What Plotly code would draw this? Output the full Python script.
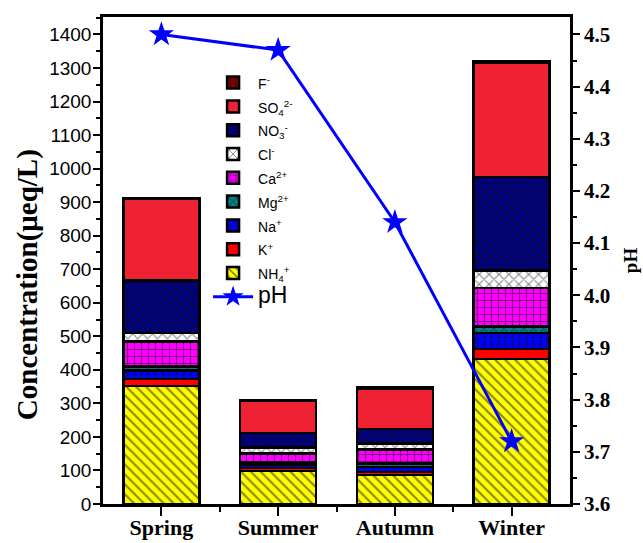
import plotly.graph_objects as go

# Seasonal ion concentrations (μeq/L), stacked bottom to top, and seasonal mean pH
seasons = ["Spring", "Summer", "Autumn", "Winter"]
nh4 = [352, 99, 87, 432]
k = [21, 8, 9, 30]
na = [25, 9, 14, 48]
mg = [12, 8, 11, 19]
ca = [74, 27, 42, 115]
cl = [26, 18, 18, 52]
no3 = [157, 42, 42, 279]
so4 = [242, 96, 122, 340]
f = [3, 2, 3, 4]
ph = [4.50, 4.47, 4.14, 3.72]

conc_ticks = list(range(0, 1401, 100))
ph_ticks = [3.6, 3.7, 3.8, 3.9, 4.0, 4.1, 4.2, 4.3, 4.4, 4.5]

x = list(range(len(seasons)))

# name, values, fill colour, pattern shape
ions = [
    ("NH<sub>4</sub><sup>+</sup>", nh4, "#ffff00", "\\"),
    ("K<sup>+</sup>", k, "#ff0000", ""),
    ("Na<sup>+</sup>", na, "#0000ff", "|"),
    ("Mg<sup>2+</sup>", mg, "#008080", "x"),
    ("Ca<sup>2+</sup>", ca, "#ff00ff", "+"),
    ("Cl<sup>-</sup>", cl, "#ffffff", "x"),
    ("NO<sub>3</sub><sup>-</sup>", no3, "#000080", "\\"),
    ("SO<sub>4</sub><sup>2-</sup>", so4, "#ee2233", ""),
    ("F<sup>-</sup>", f, "#800000", "|"),
]


def small(label):
    return f'<span style="font-size:14px">{label}</span>'


fig = go.Figure()

# pH line first so the legend (reversed) lists it last
fig.add_trace(go.Scatter(
    x=x, y=ph, yaxis="y2", mode="lines+markers",
    name='<span style="font-size:23px">pH</span>',
    line=dict(color="#0000ff", width=3),
    marker=dict(symbol="star", size=19, color="#0000ff"),
))

for name, vals, color, shape in ions:
    fig.add_trace(go.Bar(
        x=x, y=vals, name=small(name), width=0.65,
        marker=dict(
            color=color,
            line=dict(color="black", width=2.5),
            pattern=dict(shape=shape, fgcolor="#111111", size=7, solidity=0.3),
        ),
    ))

ymax = 1452
serif = "Liberation Serif, Times New Roman"
fig.update_layout(
    width=643, height=543,
    margin=dict(l=103, r=73, t=17, b=39),
    paper_bgcolor="white", plot_bgcolor="white",
    barmode="stack", bargap=0.35,
    font=dict(family="Liberation Sans, Arial", color="black"),
    showlegend=True,
    legend=dict(
        x=0.225, y=0.9, xanchor="left", yanchor="top",
        traceorder="reversed",
        bgcolor="rgba(0,0,0,0)",
        font=dict(size=16, family="Liberation Sans, Arial"),
        tracegroupgap=0, itemwidth=40,
    ),
    xaxis=dict(
        range=[-0.5, 3.5], automargin=False,
        tickmode="array", tickvals=x, ticktext=seasons,
        ticks="outside", ticklen=9, tickwidth=2, tickcolor="black",
        ticklabelstandoff=-7,
        minor=dict(tickmode="array", tickvals=[0.5, 1.5, 2.5], ticks="outside",
                   ticklen=5, tickwidth=2, tickcolor="black"),
        showline=True, linewidth=2.5, linecolor="black", mirror=True,
        showgrid=False, zeroline=False,
        tickfont=dict(family=serif, size=22, color="black", weight="bold"),
    ),
    yaxis=dict(
        range=[0, ymax], automargin=False,
        tickmode="array", tickvals=conc_ticks,
        ticks="outside", ticklen=7, tickwidth=2, tickcolor="black",
        ticklabelstandoff=-2,
        minor=dict(dtick=50, tick0=0, ticks="outside", ticklen=4,
                   tickwidth=2, tickcolor="black"),
        showline=True, linewidth=2.5, linecolor="black",
        showgrid=False, zeroline=False,
        tickfont=dict(size=19, color="black"),
    ),
    yaxis2=dict(
        overlaying="y", side="right", automargin=False,
        range=[3.6, 3.6 + ymax * 0.9 / 1400],
        tickmode="array", tickvals=ph_ticks, ticktext=[f"{v:.1f}" for v in ph_ticks],
        ticks="outside", ticklen=7, tickwidth=2, tickcolor="black",
        minor=dict(dtick=0.05, tick0=3.6, ticks="outside", ticklen=4,
                   tickwidth=2, tickcolor="black"),
        showline=True, linewidth=2.5, linecolor="black",
        showgrid=False, zeroline=False,
        tickfont=dict(family=serif, size=21, color="black", weight="bold"),
        title=dict(text="pH", standoff=14,
                   font=dict(family=serif, size=19, color="black", weight="bold")),
    ),
)

# Left axis title, set slightly below the plot's vertical centre
fig.add_annotation(
    text="Concentration(μeq/L)", textangle=-90,
    xref="paper", yref="paper", x=-0.16, y=0.45,
    xanchor="center", yanchor="middle", showarrow=False,
    font=dict(family=serif, size=29, color="black", weight="bold"),
)

fig.write_html("out.html")
